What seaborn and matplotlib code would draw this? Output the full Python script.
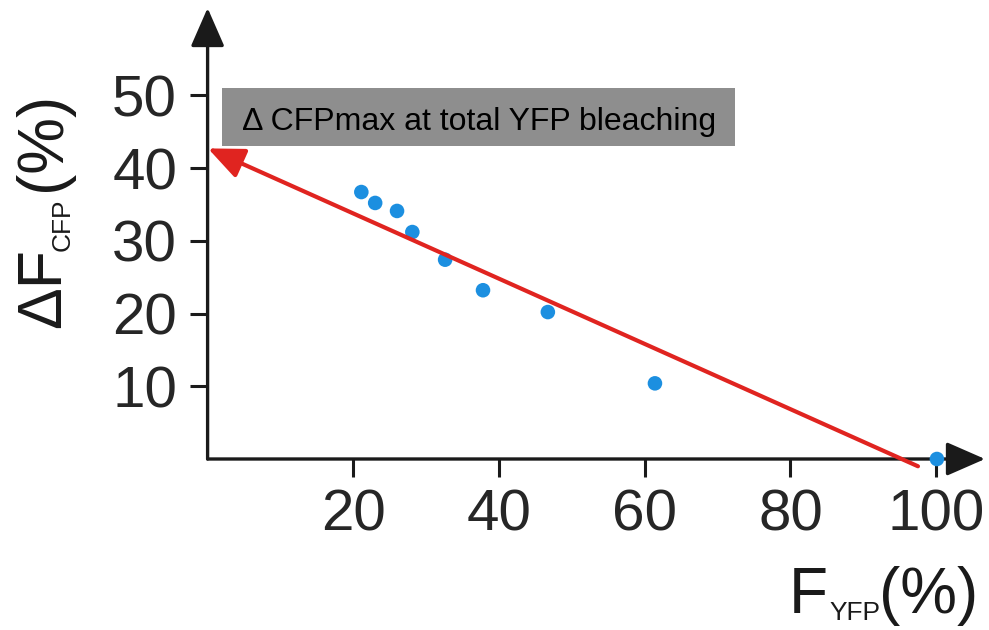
import matplotlib
matplotlib.use("Agg")
import matplotlib.pyplot as plt
from matplotlib.patches import Rectangle
import pandas as pd
import seaborn as sns

# values
f_yfp = [21.1, 23.0, 26.0, 28.1, 32.6, 37.8, 46.7, 61.4, 100.1]
delta_cfp = [36.7, 35.2, 34.1, 31.2, 27.4, 23.2, 20.2, 10.4, 0.0]
fit_start = [97.5, -1.0]
fit_end = [0.05, 42.7]
x_ticks = [20, 40, 60, 80, 100]
y_ticks = [10, 20, 30, 40, 50]
box_text = "\u0394 CFPmax at total YFP bleaching"

sns.set_theme(style="white")
plt.rcParams['font.family'] = ['Liberation Sans', 'DejaVu Sans']

W, H = 989, 630


def fx(px):
    return px / W


def fy(py):
    return (H - py) / H


df = pd.DataFrame({'f_yfp': f_yfp, 'delta_cfp': delta_cfp})

fig = plt.figure(figsize=(9.89, 6.30), dpi=100)
ax = fig.add_axes([fx(207.6), fy(459), (985 - 207.6) / W, 451 / H])

sns.scatterplot(data=df, x='f_yfp', y='delta_cfp', color='#1c8fe0', s=110,
                edgecolor='none', ax=ax, zorder=5, clip_on=False)

ax.set_xlim(0, 106.7)
ax.set_ylim(0, 62)
for s in ax.spines.values():
    s.set_visible(False)

# axes with arrow heads
arrow_kw = dict(arrowstyle='-|>,head_length=2.4,head_width=1.05', color='#1a1a1a',
                lw=2.4, shrinkA=0, shrinkB=0, mutation_scale=10)
ax.annotate('', xy=(1, 0), xytext=(0, 0), xycoords='axes fraction',
            arrowprops=arrow_kw, annotation_clip=False)
ax.annotate('', xy=(0, 1), xytext=(0, 0), xycoords='axes fraction',
            arrowprops=arrow_kw, annotation_clip=False)

ax.set_xticks(x_ticks)
ax.set_yticks(y_ticks)
ax.tick_params(axis='both', direction='out', length=13, width=2.2, color='#1a1a1a',
               labelsize=42, labelcolor='#262626', bottom=True, left=True)
ax.tick_params(axis='x', pad=8)
ax.tick_params(axis='y', pad=9)
ax.set_xlabel('')
ax.set_ylabel('')

# gray label box
fig.patches.append(Rectangle((fx(222), fy(146)), 513 / W, 58 / H,
                             transform=fig.transFigure, facecolor='#8e8e8e',
                             edgecolor='none', zorder=1))
fig.text(fx(242), fy(130), box_text, fontsize=23, color='black',
         ha='left', va='baseline', zorder=2)

# red fitted line with arrow
ax.annotate('', xy=fit_end, xytext=fit_start, xycoords='data',
            arrowprops=dict(arrowstyle='-|>,head_length=2.2,head_width=0.95',
                            color='#e02420', lw=3, shrinkA=0, shrinkB=0,
                            mutation_scale=10),
            annotation_clip=False, zorder=6)

# y label: ΔF_CFP(%)
lab = dict(rotation=90, rotation_mode='anchor', ha='left', va='baseline', color='#1a1a1a')
fig.text(fx(60), fy(328), '\u0394F', fontsize=45, **lab)
fig.text(fx(70), fy(251), 'CFP', fontsize=19, **lab)
fig.text(fx(60), fy(191), '(%)', fontsize=46, **lab)

# x label: F_YFP(%)
lab = dict(ha='left', va='baseline', color='#1a1a1a')
fig.text(fx(789), fy(613), 'F', fontsize=46, **lab)
fig.text(fx(829), fy(620), 'YFP', fontsize=19, **lab)
fig.text(fx(879), fy(613), '(%)', fontsize=46, **lab)

fig.savefig('out.png', dpi=100)
